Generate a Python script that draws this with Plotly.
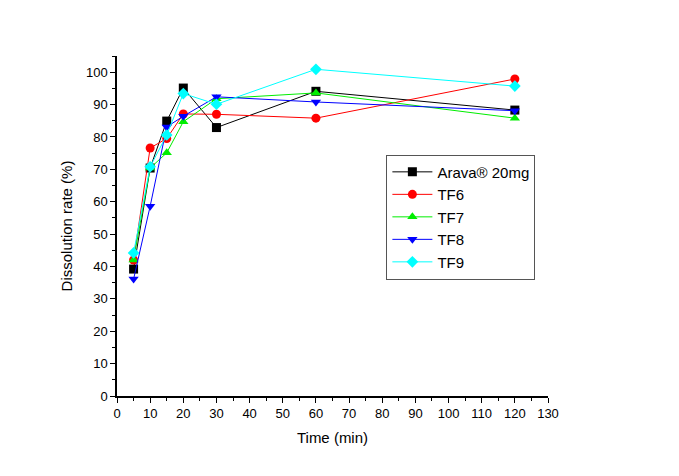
import plotly.graph_objects as go

time = [5, 10, 15, 20, 30, 60, 120]
arava = [39.2, 70.4, 84.9, 95.1, 82.9, 94.1, 88.3]
tf6 = [42.0, 76.6, 79.5, 87.1, 87.0, 85.8, 97.9]
tf7 = [42.0, 70.4, 75.1, 84.7, 91.8, 93.6, 85.8]
tf8 = [36.1, 58.6, 83.1, 86.4, 92.4, 90.8, 88.1]
tf9 = [44.2, 70.8, 80.6, 93.4, 90.1, 100.9, 95.7]

series = [
    ("Arava® 20mg", arava, "#000000", "square"),
    ("TF6", tf6, "#ff0000", "circle"),
    ("TF7", tf7, "#00ee00", "triangle-up"),
    ("TF8", tf8, "#0000ff", "triangle-down"),
    ("TF9", tf9, "#00ffff", "diamond"),
]

fig = go.Figure()
for name, vals, col, sym in series:
    fig.add_trace(go.Scatter(
        x=time, y=vals, name=name, mode="lines+markers",
        line=dict(color=col, width=1),
        marker=dict(color=col, symbol=sym, size=9, line=dict(width=0)),
    ))

font_family = "Liberation Sans, Arial"
axis_common = dict(
    showline=True, linecolor="black", linewidth=1.5, mirror=False,
    ticks="outside", ticklen=5, tickwidth=1.2, tickcolor="black",
    showgrid=False, zeroline=False,
    tickfont=dict(family=font_family, size=13, color="black"),
)

fig.update_xaxes(range=[0, 130], dtick=10, tick0=0,
                 minor=dict(ticks="outside", ticklen=3, dtick=5, tick0=0, tickcolor="black"),
                 title=dict(text="Time (min)", font=dict(family=font_family, size=15, color="black"), standoff=12),
                 **axis_common)
fig.update_yaxes(range=[0, 105], dtick=10, tick0=0,
                 minor=dict(ticks="outside", ticklen=3, dtick=5, tick0=0, tickcolor="black"),
                 title=dict(text="Dissolution rate (%)", font=dict(family=font_family, size=15, color="black"), standoff=10),
                 **axis_common)

fig.update_layout(
    width=679, height=476,
    margin=dict(l=117, r=131, t=56, b=80),
    plot_bgcolor="white", paper_bgcolor="white",
    legend=dict(x=0.625, y=0.71, xanchor="left", yanchor="top",
                bordercolor="#555555", borderwidth=1, bgcolor="white",
                font=dict(family=font_family, size=15, color="black"),
                tracegroupgap=0, itemwidth=40),
    showlegend=True,
)

fig.write_html("out.html")
